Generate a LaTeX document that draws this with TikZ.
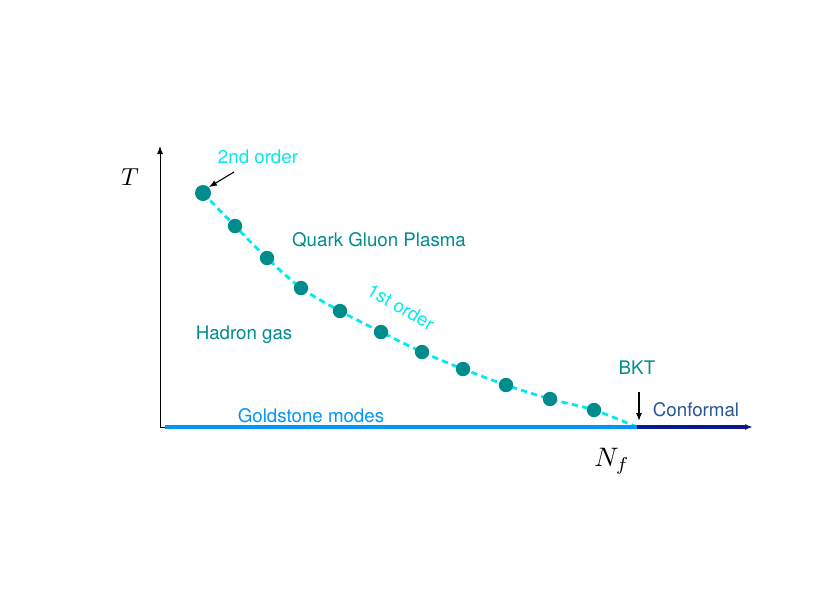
\documentclass[tikz,border=0pt]{standalone}
\usepackage{fontspec}
\setmainfont{TeX Gyre Heros}
\usetikzlibrary{arrows.meta}
\usepackage{amsmath}

\definecolor{dotteal}{RGB}{0,140,140}
\definecolor{lineteal}{RGB}{0,235,240}
\definecolor{goldblue}{RGB}{0,150,250}
\definecolor{confnavy}{RGB}{10,25,140}
\definecolor{conftext}{RGB}{40,85,150}

\tikzset{
  phasedot/.style={circle, fill=dotteal, inner sep=0pt, minimum size=0.36cm},
  labeltxt/.style={font=\fontsize{13.3}{15}\selectfont, inner sep=0pt}
}

\begin{document}
\begin{tikzpicture}[x=0.025cm, y=-0.025cm]

  \useasboundingbox (0,0) rectangle (817,613);

  % axes
  \coordinate (o) at (160,427);
  \coordinate (ytop) at (160,146);
  \coordinate (bkt) at (637,427);
  \coordinate (xend) at (753,427);
  \draw[black, line width=0.7pt, -{Latex[length=2mm]}] (o) -- (ytop);
  \draw[black, line width=0.7pt] (o) -- (165,427);
  \node[scale=1.75] (tlab) at (130,177) {$T$};
  \node[scale=1.9] (nflab) at (612,461) {$N_f$};

  % transition line
  \draw[lineteal, line width=2pt, dash pattern=on 4.5pt off 3pt]
    plot[smooth] coordinates {(203,193) (235,226) (267,258) (301,288) (340,311) (381,332)
      (422,352) (463,369) (506,385) (550,399) (594,410) (637,427)};

  % dots
  \node[phasedot, minimum size=0.4cm] (d0) at (203,193) {};
  \foreach \i/\x/\y in {1/235/226, 2/267/258, 3/301/288, 4/340/311, 5/381/332,
                        6/422/352, 7/463/369, 8/506/385, 9/550/399, 10/594/410}
    \node[phasedot] (d\i) at (\x,\y) {};

  % bottom lines
  \draw[goldblue, line width=2.2pt] (165,427) -- (bkt);
  \draw[confnavy, line width=2.2pt, -{Latex[length=2mm]}] (bkt) -- (xend);

  % labels
  \node[labeltxt, lineteal] (second) at (258,157) {2nd order};
  \coordinate (secarr) at (234,172);
  \draw[black, thick, -{Latex[length=2mm]}] (secarr) -- (d0.north east);

  \node[labeltxt, dotteal] (qgp) at (379,240) {Quark Gluon Plasma};
  \node[labeltxt, lineteal, rotate=-30] (first) at (401,307) {1st order};
  \node[labeltxt, dotteal] (hadron) at (244,335) {Hadron gas};
  \node[labeltxt, dotteal] (bktlab) at (637,368) {BKT};
  \coordinate (bktarr) at (639,392);
  \draw[black, thick, -{Latex[length=2mm]}] (bktarr) -- (639,421);
  \node[labeltxt, conftext] (conf) at (696,410) {Conformal};
  \node[labeltxt, goldblue] (gold) at (311,416) {Goldstone modes};

\end{tikzpicture}
\end{document}
